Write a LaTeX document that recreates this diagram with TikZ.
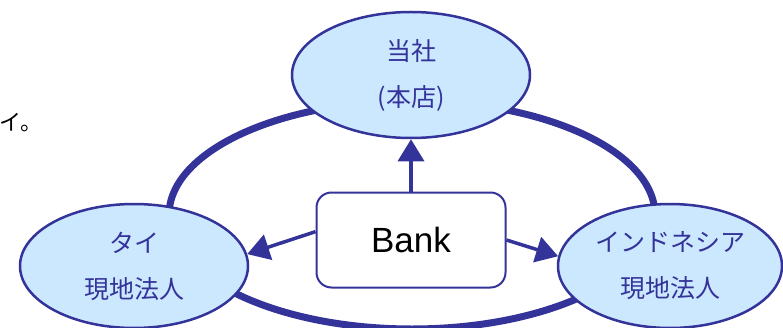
\documentclass[tikz,border=0pt]{standalone}
\usepackage{fontspec}
\newfontfamily\cjk{Noto Sans CJK JP}
\setmainfont{Liberation Sans}
\usetikzlibrary{arrows.meta,shapes.geometric,positioning}
\definecolor{linkblue}{HTML}{333399}
\definecolor{bodyblue}{HTML}{CCE8FF}

\begin{document}
\begin{tikzpicture}[x=1pt,y=1pt,
  office/.style={ellipse, draw=linkblue, line width=2.5pt, fill=bodyblue, inner sep=0pt,
    text=linkblue, align=center, font=\cjk\fontsize{25}{46}\selectfont},
  bankbox/.style={rounded corners=15pt, draw=linkblue, line width=2pt, fill=white,
    minimum width=189pt, minimum height=95pt, font=\fontsize{35}{40}\selectfont},
  flow/.style={linkblue, line width=3.5pt, -{Triangle[length=22pt,width=26pt]}}]
  \useasboundingbox (0,0) rectangle (783,327);

  % ring behind the offices
  \draw [linkblue, line width=7pt] (412,112) ellipse [x radius=243, y radius=114];

  \node (note) [anchor=west, inner sep=0pt, font=\cjk\fontsize{22}{26}\selectfont] at (-1,204) {イ。};

  \node (hq) [office, minimum width=238pt, minimum height=126pt] at (411,252) {当社\\(本店)};
  \node (tai) [office, minimum width=228pt, minimum height=124pt] at (134,61) {タイ\\現地法人};
  \node (indo) [office, minimum width=224pt, minimum height=124pt] at (670,61) {インドネシア\\現地法人};
  \node (bank) [bankbox] at (411,87) {Bank};

  \draw [flow] (bank.north) -- (hq.south);
  \draw [flow] (bank.175) -- (tai.6);
  \draw [flow] (bank.east) -- (indo.175);
\end{tikzpicture}
\end{document}
